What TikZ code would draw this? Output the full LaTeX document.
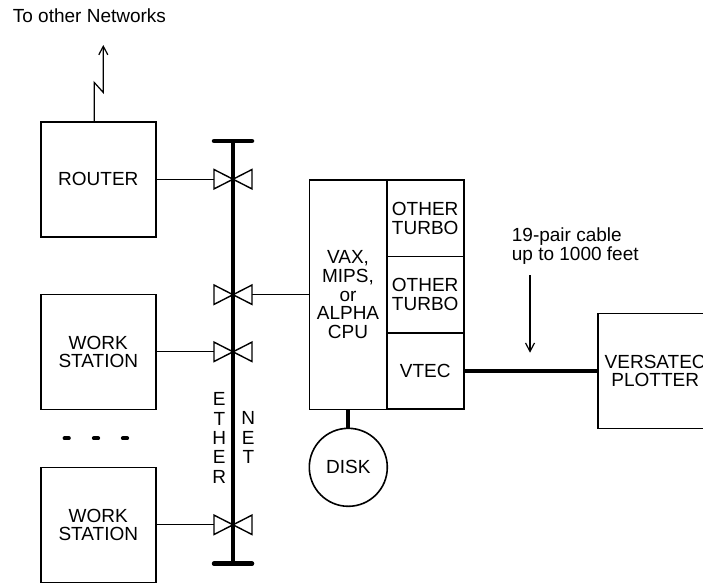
\documentclass[tikz,border=0pt]{standalone}
\usepackage{fontspec}
\setmainfont{Liberation Sans}
\usetikzlibrary{arrows.meta}
\begin{document}
\begin{tikzpicture}[x=1pt, y=-1pt,
  every node/.style={font=\fontsize{19}{18.7}\selectfont, inner sep=0pt},
  unit/.style={draw, line width=1.6pt, minimum width=115pt, minimum height=115pt, align=center},
  cell/.style={draw, line width=1.6pt, minimum width=77pt, minimum height=76.4pt, align=center},
  link/.style={line width=1.2pt},
  heavy/.style={line width=4.5pt},
  valve/.style={draw, fill=white, line width=1.4pt, line join=miter},
  tip/.style={-{Straight Barb[length=8.5pt, width=9pt]}}]
  \useasboundingbox (0,0) rectangle (703,582);

  \node[anchor=west] (nets) at (12.7,16) {To other Networks};
  \node[unit] (router) at (98.3,179.2) {ROUTER};
  \node[unit] (ws1) at (98.3,351.8) {WORK\\STATION};
  \node[unit] (ws2) at (98.3,524.8) {WORK\\STATION};
  \node[draw, line width=1.6pt, minimum width=77.4pt, minimum height=229.3pt, align=center] (cpu) at (348,294.7) {VAX,\\MIPS,\\or\\ALPHA\\CPU};
  \node[cell] (turbo1) at (425.2,218.2) {OTHER\\TURBO};
  \node[cell] (turbo2) at (425.2,294.6) {OTHER\\TURBO};
  \node[cell] (vtec) at (425.2,371) {VTEC};
  \node[draw, circle, line width=1.6pt, minimum size=78pt] (disk) at (348.3,467.3) {DISK};
  \node[unit] (plotter) at (655.2,371) {VERSATEC\\PLOTTER};
  \node[anchor=west, align=left, font=\fontsize{19}{19.3}\selectfont] (cable) at (511.7,246.3) {19-pair cable\\up to 1000 feet};
  \node[align=center, font=\fontsize{19}{19.3}\selectfont] (ether) at (219.3,438) {E\\T\\H\\E\\R};
  \node[align=center, font=\fontsize{19}{19.3}\selectfont] (net) at (248.3,437.5) {N\\E\\T};

  % ethernet bus and taps
  \coordinate (bustop) at (233,141);
  \coordinate (busbot) at (233,563.7);
  \coordinate (tap1) at (bustop |- router.east);
  \coordinate (tap2) at (bustop |- cpu.west);
  \coordinate (tap3) at (bustop |- ws1.east);
  \coordinate (tap4) at (bustop |- ws2.east);

  \draw[link] (router.east) -- (tap1);
  \draw[link] (cpu.west) -- (tap2);
  \draw[link] (ws1.east) -- (tap3);
  \draw[link] (ws2.east) -- (tap4);
  \foreach \t in {tap1,tap2,tap3,tap4}
    \draw[valve] (\t) -- ++(-19,-9.7) -- ++(0,19.4) -- cycle
                 (\t) -- ++(19,-9.7) -- ++(0,19.4) -- cycle;
  \draw[heavy] (bustop) -- (busbot);
  \draw[heavy, line cap=round] ([xshift=-19pt]bustop) -- ([xshift=19pt]bustop);
  \draw[heavy, line cap=round] ([xshift=-19pt]busbot) -- ([xshift=19pt]busbot);

  % uplink
  \coordinate (netout) at (103.3,45);
  \draw[link, tip] ([xshift=-4pt]router.north) -- ++(0,-38.4) -- ++(9,10) -- (netout);

  % plotter cable
  \draw[line width=4pt] (vtec.east) -- (plotter.west);
  \coordinate (cabtop) at (530,275);
  \coordinate (cabtip) at (530,352.7);
  \draw[link, tip] (cabtop) -- (cabtip);

  \draw[line width=4pt] (disk.north |- cpu.south) -- (disk.north);

  \foreach \x in {66.7,96,125}
    \draw[line width=4.3pt, line cap=round] (\x-2,438.3) -- (\x+2,438.3);
\end{tikzpicture}
\end{document}
